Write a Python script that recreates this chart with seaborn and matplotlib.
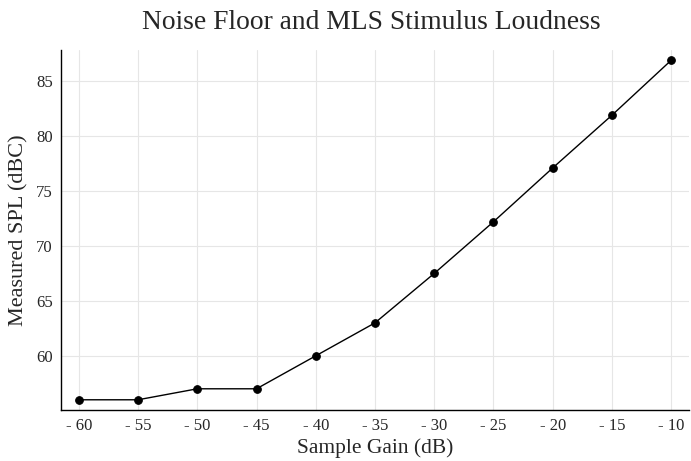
import matplotlib
matplotlib.use("Agg")
import matplotlib.pyplot as plt
import seaborn as sns
import pandas as pd

gain_db = [-60, -55, -50, -45, -40, -35, -30, -25, -20, -15, -10]
spl_dbc = [56.0, 56.0, 57.0, 57.0, 60.0, 63.0, 67.5, 72.2, 77.1, 81.9, 86.9]
x_ticks = [-60, -55, -50, -45, -40, -35, -30, -25, -20, -15, -10]
x_tick_labels = ["- 60", "- 55", "- 50", "- 45", "- 40", "- 35", "- 30", "- 25", "- 20", "- 15", "- 10"]
y_ticks = [60, 65, 70, 75, 80, 85]

df = pd.DataFrame({"gain": gain_db, "spl": spl_dbc})

sns.set_style("white")
plt.rcParams["font.family"] = ["Liberation Serif", "DejaVu Serif"]

fig = plt.figure(figsize=(6.91, 4.61), dpi=100)
ax = fig.add_axes([61 / 691, 1 - 410 / 461, 628 / 691, 360 / 461])

sns.lineplot(data=df, x="gain", y="spl", ax=ax, color="black", linewidth=1.0,
             marker="o", markersize=5.5, markeredgecolor="black", markerfacecolor="black")

ax.set_xlim(-61.5, -8.5)
ax.set_ylim(55.07, 87.83)
ax.set_xticks(x_ticks)
ax.set_xticklabels(x_tick_labels)
ax.set_yticks(y_ticks)
ax.grid(True, color="#e6e6e6", linewidth=0.8)
ax.set_axisbelow(True)
for s in ["top", "right"]:
    ax.spines[s].set_visible(False)
for s in ["left", "bottom"]:
    ax.spines[s].set_color("black")
    ax.spines[s].set_linewidth(1.0)
ax.tick_params(direction="in", length=4, width=0.8, color="black", labelsize=12, pad=6)

ax.set_xlabel("Sample Gain (dB)", fontsize=15.5, labelpad=3)
ax.set_ylabel("Measured SPL (dBC)", fontsize=16, labelpad=5)
fig.suptitle("Noise Floor and MLS Stimulus Loudness", fontsize=19.8, y=0.978, x=0.537)

fig.savefig("out.png", dpi=100)
